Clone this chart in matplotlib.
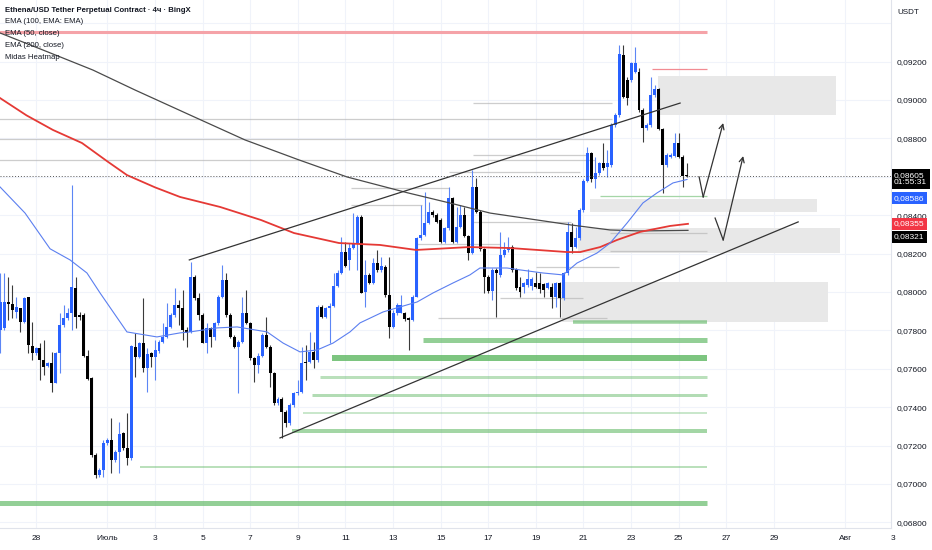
import matplotlib.pyplot as plt
import numpy as np

plt.rcParams['font.family'] = ['Liberation Sans', 'DejaVu Sans']

# ENAUSDT 4h candles, x in days from 1 July (first candle 26 June 12:00)
first_day = -4.5
bar_step = 1 / 6

opens = [0.07802, 0.07810, 0.07949, 0.07937, 0.07897, 0.07915, 0.07845, 0.07972, 0.07720, 0.07680,
         0.07706, 0.07646, 0.07616, 0.07632, 0.07528, 0.07680, 0.07828, 0.07863, 0.07892, 0.08019,
         0.07880, 0.07880, 0.07666, 0.07550, 0.07151, 0.07047, 0.07073, 0.07212, 0.07229, 0.07125,
         0.07168, 0.07264, 0.07186, 0.07133, 0.07715, 0.07663, 0.07732, 0.07602, 0.07680, 0.07663,
         0.07694, 0.07738, 0.07767, 0.07819, 0.07880, 0.07932, 0.07915, 0.07802, 0.07793, 0.08080,
         0.07967, 0.07880, 0.07736, 0.07810, 0.07767, 0.07837, 0.07975, 0.08062, 0.07880, 0.07767,
         0.07715, 0.07741, 0.07889, 0.07840, 0.07654, 0.07620, 0.07666, 0.07776, 0.07715, 0.07576,
         0.07420, 0.07441, 0.07377, 0.07316, 0.07411, 0.07472, 0.07481, 0.07637, 0.07637, 0.07689,
         0.07646, 0.07923, 0.07868, 0.07915, 0.07927, 0.08031, 0.08100, 0.08210, 0.08167, 0.08227,
         0.08253, 0.08392, 0.08002, 0.08088, 0.08049, 0.08149, 0.08115, 0.08132, 0.07984, 0.07820,
         0.07889, 0.07892, 0.07889, 0.07863, 0.07854, 0.07976, 0.08280, 0.08297, 0.08358, 0.08418,
         0.08401, 0.08375, 0.08262, 0.08332, 0.08488, 0.08262, 0.08340, 0.08401, 0.08292, 0.08205,
         0.08549, 0.08418, 0.08222, 0.08080, 0.08007, 0.08115, 0.08089, 0.08193, 0.08219, 0.08236,
         0.08118, 0.08028, 0.08028, 0.08036, 0.08031, 0.08049, 0.08045, 0.08042, 0.08019, 0.08028,
         0.07976, 0.08049, 0.07967, 0.08097, 0.08314, 0.08236, 0.08280, 0.08427, 0.08580, 0.08722,
         0.08587, 0.08618, 0.08674, 0.08653, 0.08662, 0.08870, 0.08922, 0.09234, 0.09104, 0.09104,
         0.09148, 0.09148, 0.08948, 0.08852, 0.08870, 0.09026, 0.09056, 0.08847, 0.08661, 0.08705,
         0.08708, 0.08778, 0.08705, 0.08609]
highs = [0.08097, 0.08097, 0.08080, 0.08036, 0.07975, 0.07915, 0.07975, 0.07975, 0.07845, 0.07715,
         0.07732, 0.07750, 0.07637, 0.07689, 0.07689, 0.07889, 0.07932, 0.07915, 0.08557, 0.08080,
         0.07897, 0.07889, 0.07698, 0.07559, 0.07160, 0.07082, 0.07229, 0.07238, 0.07342, 0.07177,
         0.07325, 0.07272, 0.07368, 0.07724, 0.07784, 0.07741, 0.07967, 0.07706, 0.07689, 0.07750,
         0.07750, 0.07837, 0.07941, 0.07889, 0.08019, 0.07958, 0.08010, 0.07819, 0.08158, 0.08088,
         0.07993, 0.07889, 0.07837, 0.07819, 0.07845, 0.07984, 0.08140, 0.08097, 0.07889, 0.07776,
         0.07750, 0.07975, 0.08010, 0.07845, 0.07663, 0.07680, 0.07784, 0.07871, 0.07724, 0.07585,
         0.07455, 0.07455, 0.07385, 0.07420, 0.07481, 0.07541, 0.07715, 0.07724, 0.07793, 0.07741,
         0.07932, 0.07932, 0.07923, 0.07941, 0.08100, 0.08114, 0.08288, 0.08262, 0.08253, 0.08410,
         0.08401, 0.08401, 0.08167, 0.08097, 0.08175, 0.08219, 0.08184, 0.08141, 0.08184, 0.07906,
         0.07941, 0.07984, 0.07898, 0.07872, 0.07984, 0.08288, 0.08453, 0.08523, 0.08470, 0.08427,
         0.08410, 0.08384, 0.08340, 0.08549, 0.08497, 0.08444, 0.08453, 0.08444, 0.08297, 0.08635,
         0.08592, 0.08427, 0.08227, 0.08088, 0.08123, 0.08123, 0.08314, 0.08262, 0.08288, 0.08245,
         0.08123, 0.08080, 0.08054, 0.08118, 0.08080, 0.08106, 0.08097, 0.08049, 0.08054, 0.08045,
         0.08054, 0.08054, 0.08106, 0.08366, 0.08361, 0.08340, 0.08436, 0.08587, 0.08757, 0.08731,
         0.08705, 0.08679, 0.08774, 0.08740, 0.08879, 0.08931, 0.09287, 0.09287, 0.09122, 0.09200,
         0.09278, 0.09165, 0.08957, 0.08879, 0.09122, 0.09078, 0.09061, 0.08852, 0.08722, 0.08722,
         0.08826, 0.08826, 0.08714, 0.08670]
lows = [0.07680, 0.07802, 0.07854, 0.07863, 0.07863, 0.07793, 0.07837, 0.07680, 0.07646, 0.07672,
        0.07541, 0.07567, 0.07611, 0.07481, 0.07524, 0.07576, 0.07819, 0.07854, 0.07802, 0.07810,
        0.07854, 0.07663, 0.07541, 0.07142, 0.07029, 0.07038, 0.07038, 0.07203, 0.07055, 0.07116,
        0.07055, 0.07177, 0.07099, 0.07125, 0.07559, 0.07654, 0.07585, 0.07481, 0.07611, 0.07541,
        0.07680, 0.07732, 0.07758, 0.07810, 0.07871, 0.07828, 0.07750, 0.07715, 0.07784, 0.07958,
        0.07854, 0.07732, 0.07684, 0.07715, 0.07750, 0.07828, 0.07967, 0.07871, 0.07758, 0.07706,
        0.07472, 0.07732, 0.07833, 0.07646, 0.07533, 0.07576, 0.07663, 0.07706, 0.07507, 0.07411,
        0.07411, 0.07238, 0.07298, 0.07307, 0.07402, 0.07463, 0.07472, 0.07541, 0.07628, 0.07602,
        0.07637, 0.07863, 0.07863, 0.07732, 0.07923, 0.08028, 0.08093, 0.08128, 0.08115, 0.08222,
        0.08115, 0.07993, 0.07924, 0.08042, 0.08042, 0.08106, 0.08106, 0.07976, 0.07759, 0.07811,
        0.07880, 0.07889, 0.07851, 0.07698, 0.07851, 0.07972, 0.08271, 0.08292, 0.08354, 0.08392,
        0.08358, 0.08253, 0.08253, 0.08323, 0.08253, 0.08257, 0.08332, 0.08285, 0.08167, 0.08198,
        0.08410, 0.08215, 0.07993, 0.07993, 0.07958, 0.07871, 0.08080, 0.08184, 0.08210, 0.08106,
        0.08010, 0.07976, 0.07993, 0.08028, 0.08010, 0.08019, 0.07993, 0.07976, 0.08014, 0.07915,
        0.07924, 0.07872, 0.07958, 0.08089, 0.08202, 0.08228, 0.08271, 0.08418, 0.08575, 0.08575,
        0.08540, 0.08609, 0.08635, 0.08601, 0.08653, 0.08861, 0.08913, 0.09009, 0.08974, 0.09096,
        0.09142, 0.08939, 0.08783, 0.08844, 0.08861, 0.09017, 0.08844, 0.08514, 0.08653, 0.08696,
        0.08705, 0.08696, 0.08549, 0.08597]
closes = [0.07949, 0.07949, 0.07937, 0.07906, 0.07923, 0.07845, 0.07967, 0.07724, 0.07680, 0.07706,
          0.07646, 0.07611, 0.07628, 0.07528, 0.07680, 0.07828, 0.07863, 0.07892, 0.08024, 0.07868,
          0.07868, 0.07666, 0.07545, 0.07151, 0.07047, 0.07073, 0.07212, 0.07229, 0.07125, 0.07168,
          0.07260, 0.07186, 0.07133, 0.07719, 0.07663, 0.07732, 0.07602, 0.07677, 0.07663, 0.07698,
          0.07741, 0.07767, 0.07819, 0.07880, 0.07932, 0.07915, 0.07802, 0.07784, 0.08080, 0.07967,
          0.07880, 0.07736, 0.07810, 0.07767, 0.07837, 0.07975, 0.08062, 0.07880, 0.07767, 0.07715,
          0.07741, 0.07892, 0.07840, 0.07654, 0.07620, 0.07666, 0.07776, 0.07715, 0.07576, 0.07420,
          0.07441, 0.07377, 0.07316, 0.07411, 0.07472, 0.07481, 0.07632, 0.07632, 0.07689, 0.07646,
          0.07923, 0.07868, 0.07915, 0.07927, 0.08031, 0.08100, 0.08210, 0.08135, 0.08227, 0.08253,
          0.08392, 0.07997, 0.08088, 0.08049, 0.08149, 0.08115, 0.08135, 0.07984, 0.07820, 0.07892,
          0.07932, 0.07932, 0.07858, 0.07854, 0.07976, 0.08280, 0.08297, 0.08358, 0.08418, 0.08401,
          0.08366, 0.08262, 0.08332, 0.08488, 0.08262, 0.08340, 0.08401, 0.08292, 0.08205, 0.08549,
          0.08418, 0.08222, 0.08080, 0.08007, 0.08115, 0.08097, 0.08193, 0.08219, 0.08233, 0.08115,
          0.08019, 0.08002, 0.08049, 0.08066, 0.08066, 0.08028, 0.08014, 0.08010, 0.08045, 0.07976,
          0.08049, 0.07967, 0.08097, 0.08314, 0.08236, 0.08280, 0.08427, 0.08580, 0.08722, 0.08587,
          0.08618, 0.08670, 0.08644, 0.08674, 0.08870, 0.08922, 0.09240, 0.09017, 0.09009, 0.09191,
          0.09191, 0.08948, 0.08852, 0.08870, 0.09026, 0.09056, 0.08847, 0.08661, 0.08714, 0.08714,
          0.08774, 0.08705, 0.08604, 0.08605]

# moving averages (day, value)
ema50_days = [-4.51, -3.46, -2.41, -1.57, -0.86, -0.31, 0.82, 2.08, 3.05, 3.47, 4.61, 5.45, 6.71,
              7.38, 8.09, 8.81, 9.48, 10.19, 10.61, 11.58, 12.29, 13.01, 13.68, 14.52, 15.23, 15.65,
              16.79, 17.34, 18.30, 19.14, 19.73, 20.57, 21.12, 21.83, 22.50, 23.09, 23.76, 24.35]
ema50_vals = [0.08547, 0.08411, 0.08225, 0.08167, 0.08099, 0.07995, 0.07792, 0.07766, 0.07787,
              0.07792, 0.07813, 0.07818, 0.07792, 0.07734, 0.07688, 0.07698, 0.07734, 0.07792,
              0.07839, 0.07896, 0.07922, 0.07948, 0.07995, 0.08047, 0.08089, 0.08125, 0.08125,
              0.08115, 0.08099, 0.08089, 0.08151, 0.08203, 0.08255, 0.08359, 0.08464, 0.08516,
              0.08568, 0.08586]
ema200_days = [-4.51, -3.4, -2.29, -1.07, 0.0, 0.82, 2.0, 3.05, 4.73, 6.45, 7.84, 9.73, 11.45,
               12.97, 15.19, 16.92, 19.31, 19.86, 20.70, 21.41, 22.38, 23.64, 24.39]
ema200_vals = [0.09010, 0.08920, 0.08844, 0.08776, 0.08680, 0.08609, 0.08545, 0.08495, 0.08443,
               0.08375, 0.08307, 0.08255, 0.08245, 0.08219, 0.08234, 0.08229, 0.08208, 0.08208,
               0.08234, 0.08271, 0.08313, 0.08344, 0.08355]
ema100_days = [-4.51, -2.5, -0.61, 1.16, 3.5, 5.78, 8.0, 10.07, 12.63, 14.5, 16.08, 19.48, 21.12,
               22.38, 24.39]
ema100_vals = [0.09349, 0.09250, 0.09156, 0.09052, 0.08920, 0.08792, 0.08690, 0.08599, 0.08516,
               0.08460, 0.08411, 0.08349, 0.08323, 0.08318, 0.08321]

# Midas heatmap levels
heat_end = 25.2
green_levels = [0.07845, 0.07750, 0.07656, 0.07557, 0.07464, 0.07370, 0.07276, 0.07089, 0.06901]
green_from = [19.56, 13.26, 9.44, 8.93, 8.60, 8.22, 7.76, 1.37, -4.6]
green_alpha = [0.65, 0.7, 0.85, 0.45, 0.5, 0.35, 0.6, 0.45, 0.7]
green_width = [3.5, 5, 6, 3, 3, 2, 4, 2, 5]
gray_levels = [0.08901, 0.08797, 0.08688, 0.08984, 0.08714, 0.08625, 0.08542, 0.08453, 0.08365,
               0.08307, 0.08214, 0.07865, 0.07970, 0.08250, 0.08130]
gray_from = [-4.6, -4.6, -4.6, 15.36, 15.36, 14.35, 10.24, 10.24, 15.36, 21.1, 21.1, 13.87, 16.5,
             13.0, 18.0]
gray_to = [21.2, 21.2, 20.5, 21.2, 20.2, 19.86, 14.35, 13.22, 19.48, 25.2, 25.2, 21.0, 20.0, 16.5,
           21.5]
zone_top = [0.09125, 0.08484, 0.08333, 0.08052]
zone_bottom = [0.08922, 0.08417, 0.08203, 0.07844]
zone_from = [23.13, 20.28, 19.77, 19.10]
zone_to = [30.61, 29.82, 30.78, 30.28]
red_level = 0.09354
red_short = 0.09162

# drawings
upper_line = ([3.44, 24.06], [0.08167, 0.08984])
lower_line = ([7.25, 29.02], [0.07240, 0.08365])
path1 = ([24.86, 25.03, 25.87], [0.08599, 0.08495, 0.08880])
path2 = ([25.53, 25.87, 26.71], [0.08385, 0.08271, 0.08708])

last_price = 0.08605
date_ticks = [-3, 0, 2, 4, 6, 8, 10, 12, 14, 16, 18, 20, 22, 24, 26, 28, 31]
date_labels = ['28', 'Июль', '3', '5', '7', '9', '11', '13', '15', '17', '19', '21', '23', '25',
               '27', '29', 'Авг']
price_ticks = [0.068, 0.070, 0.072, 0.074, 0.076, 0.078, 0.080, 0.082, 0.084, 0.088, 0.090, 0.092]

W, H = 932, 550
fig = plt.figure(figsize=(W / 100, H / 100), dpi=100)
ax = fig.add_axes([0, 22 / H, 891 / W, 528 / H])
ax.set_xlim(-4.513, 32.92)
ax.set_ylim(0.067708, 0.095208)

grid_c = '#f0f3fa'
for d in date_ticks:
    ax.axvline(d, color=grid_c, lw=0.8, zorder=0)
for p in price_ticks + [0.086, 0.094]:
    ax.axhline(p, color=grid_c, lw=0.8, zorder=0)

# heatmap
for t, b, x0, x1 in zip(zone_top, zone_bottom, zone_from, zone_to):
    ax.fill_between([x0, x1], b, t, color='#e8e8e8', lw=0, zorder=1)
for lvl, x0, a, w in zip(green_levels, green_from, green_alpha, green_width):
    ax.hlines(lvl, x0, heat_end, color='#66bb6a', alpha=a, lw=w * 0.72, zorder=2)
for lvl, x0, x1 in zip(gray_levels, gray_from, gray_to):
    ax.hlines(lvl, x0, x1, color='#b8b8b8', alpha=0.7, lw=0.9, zorder=2)
ax.hlines(0.0850, 20.7, heat_end, color='#a5d6a7', lw=0.9, zorder=2)
ax.hlines(red_level, -4.6, heat_end, color='#f5a3a8', lw=2.2, zorder=2)
ax.hlines(red_short, 22.88, heat_end, color='#f28b92', lw=0.9, zorder=2)

# candles
o = np.array(opens)
h = np.array(highs)
l = np.array(lows)
c = np.array(closes)
t = first_day + np.arange(len(c)) * bar_step
up = c >= o
body_col = np.where(up, '#2962ff', '#000000')
wick_col = np.where(up, '#5c86f5', '#3a3a3a')
ax.vlines(t, l, h, colors=wick_col, lw=0.8, zorder=5)
ax.bar(t, np.maximum(np.abs(c - o), 0.00003), bottom=np.minimum(o, c), width=0.125,
       color=body_col, lw=0, zorder=6)

# EMAs
ax.plot(ema100_days, ema100_vals, color='#4a4a4a', lw=0.9, zorder=7)
ax.plot(ema200_days, ema200_vals, color='#e53935', lw=1.3, zorder=7)
ax.plot(ema50_days, ema50_vals, color='#5b7ff0', lw=0.8, zorder=7)

# trend lines and arrows
ax.plot(*upper_line, color='#333333', lw=0.9, zorder=8)
ax.plot(*lower_line, color='#333333', lw=0.9, zorder=8)
for px_, py_ in (path1, path2):
    ax.plot(px_[:2], py_[:2], color='#333333', lw=0.9, zorder=8)
    ax.annotate('', xy=(px_[2], py_[2]), xytext=(px_[1], py_[1]),
                arrowprops=dict(arrowstyle='->', color='#333333', lw=0.9,
                                shrinkA=0, shrinkB=0, mutation_scale=9), zorder=8)

ax.axhline(last_price, color='#555555', lw=0.7, ls=(0, (1, 2)), zorder=8)

# axes look
for s in ['top', 'left']:
    ax.spines[s].set_visible(False)
ax.spines['right'].set_color('#e0e3eb')
ax.spines['bottom'].set_color('#e0e3eb')
ax.set_xticks(date_ticks)
ax.set_xticklabels(date_labels)
ax.yaxis.tick_right()
ax.set_yticks(price_ticks)
ax.set_yticklabels([('%.5f' % p).replace('.', ',') for p in price_ticks])
ax.tick_params(axis='both', length=0, labelsize=6.0, colors='#131722')
ax.tick_params(axis='x', pad=5)
ax.tick_params(axis='y', pad=4)
ax.text(33, -0.0133, '3', transform=ax.get_xaxis_transform(), ha='center', va='top',
        fontsize=6.0, color='#131722', clip_on=False)

# legend texts
legend_lines = ['Ethena/USD Tether Perpetual Contract · 4ч · BingX', 'EMA (100, EMA: EMA)',
                'EMA (50, close)', 'EMA (200, close)', 'Midas Heatmap']
for i, s in enumerate(legend_lines):
    fig.text(5 / W, 1 - (10 + 11.8 * i) / H, s, fontsize=5.6, color='#131722', va='center',
             fontweight='bold' if i == 0 else 'normal')

fig.text(908 / W, 1 - 12 / H, 'USDT', fontsize=5.8, color='#131722', ha='center', va='center')


def tag(y_px, txt, fc):
    fig.text(894 / W, 1 - y_px / H, txt, fontsize=6.0, color='white', va='center', ha='left',
             linespacing=1.1, bbox=dict(boxstyle='square,pad=0.3', fc=fc, ec='none'))


tag(179, '0,08605\n01:55:31', '#000000')
tag(198.5, '0,08586', '#2962ff')
tag(224, '0,08355', '#f23645')
tag(237, '0,08321', '#000000')

fig.savefig('out.png', dpi=100, facecolor='white')
